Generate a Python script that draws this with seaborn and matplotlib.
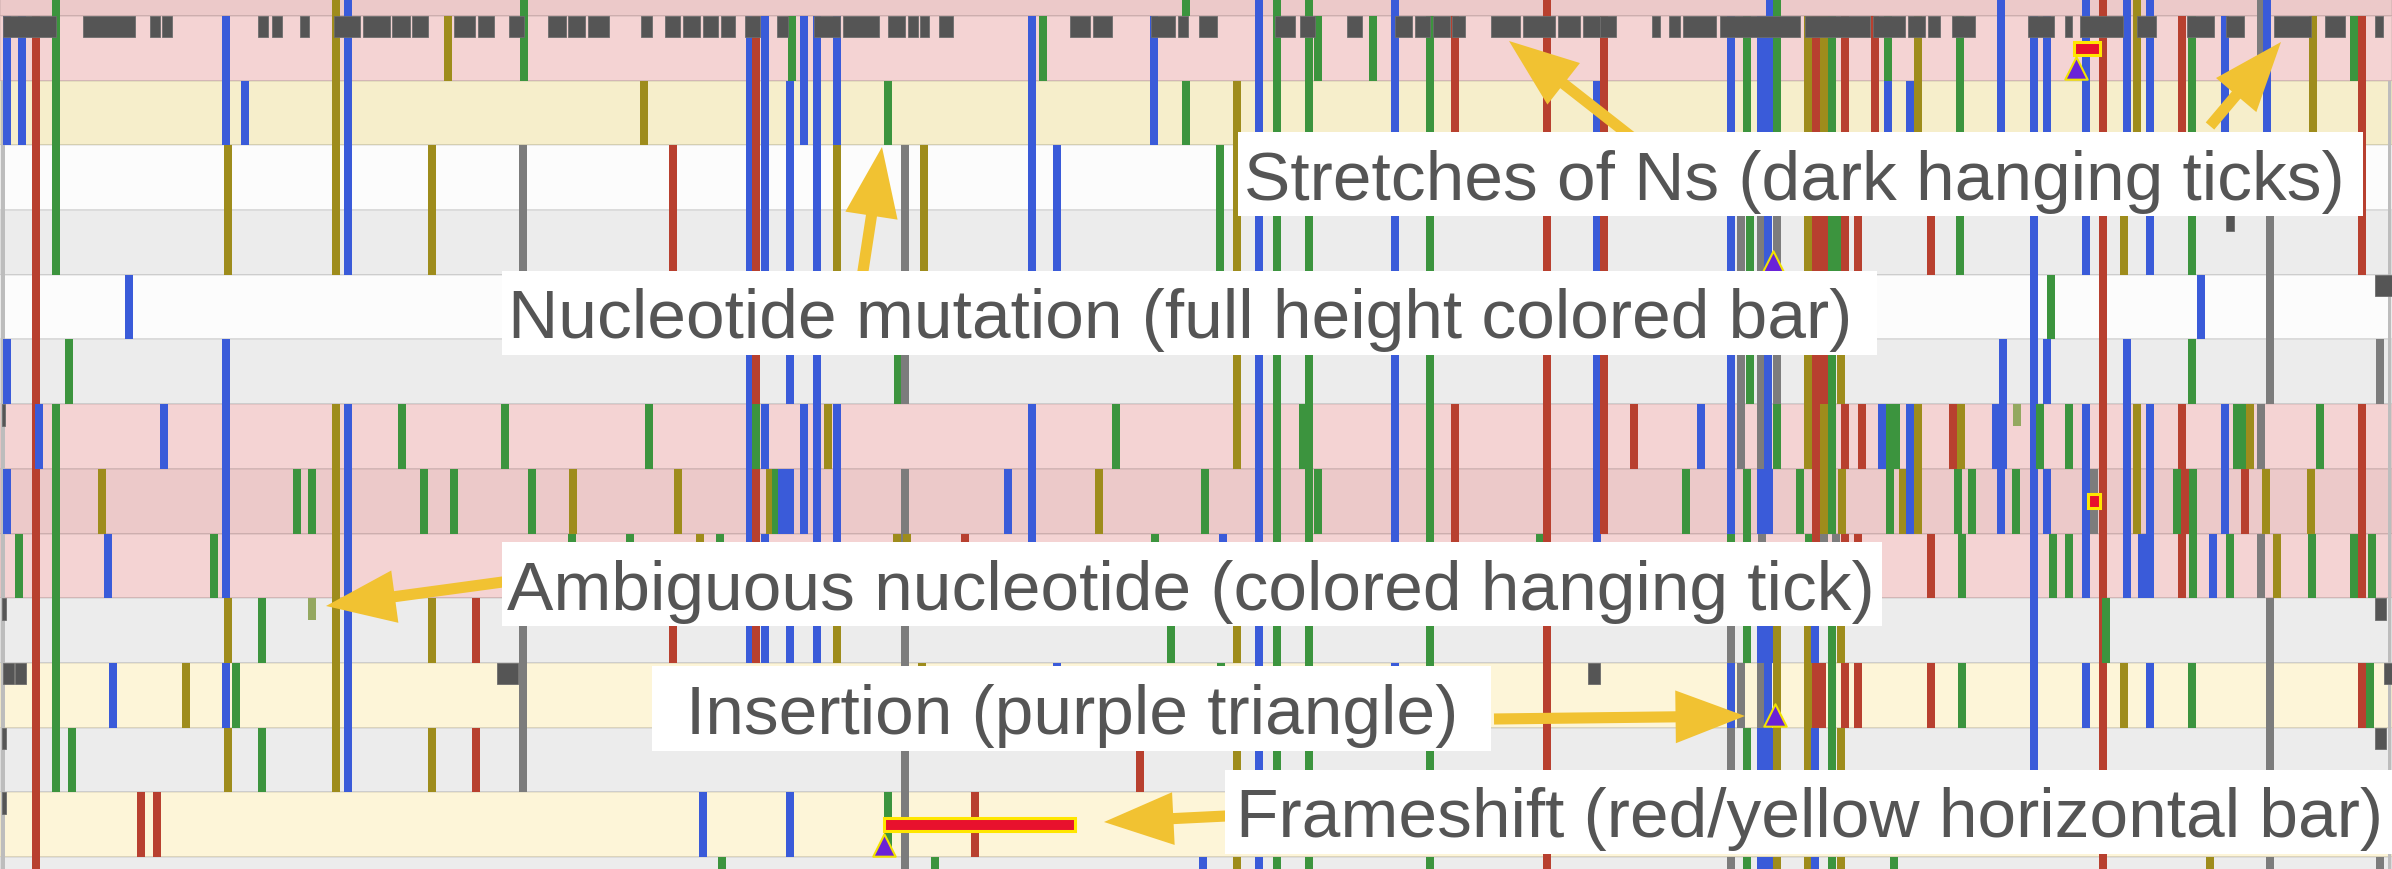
import matplotlib
matplotlib.use("Agg")
import numpy as np
import pandas as pd
import matplotlib.pyplot as plt
from matplotlib.patches import Rectangle
import seaborn as sns

GENOME_LEN = 29900

# row backgrounds, top (partial) row -1 to bottom (partial) row 13
row_ids = list(range(-1, 14))
row_bg = ['#ecc9c9', '#f4d3d3', '#f6eecb', '#fcfcfc', '#ececec', '#fcfcfc', '#ececec',
          '#f4d3d3', '#ecc9c9', '#f4d3d3', '#ececec', '#fdf5d8', '#ececec', '#fdf5d8', '#ececec']

base_colors = {'A': '#b8402f', 'C': '#3a5bd9', 'G': '#9e8c1c', 'T': '#3c943e', '-': '#7c7c7c'}

# mutations: (position, base, first row, last row)
muts_left = [
    (88, 'C', 0, 1), (88, 'C', 5, 5), (88, 'C', 7, 7),
    (275, 'C', 0, 1),
    (450, 'A', 0, 13), (488, 'C', 6, 6),
    (700, 'T', -1, 3), (700, 'T', 6, 11), (863, 'T', 5, 5), (900, 'T', 11, 11),
    (238, 'T', 8, 8), (1350, 'C', 8, 8), (1275, 'G', 7, 7), (1413, 'C', 10, 10), (1613, 'C', 4, 4),
    (1763, 'A', 12, 12), (1963, 'A', 12, 12), (2050, 'C', 6, 6), (2325, 'G', 10, 10), (2675, 'T', 8, 8),
    (2825, 'C', 0, 1), (2850, 'G', 2, 3), (2825, 'C', 5, 8), (2850, 'G', 9, 9), (2825, 'C', 10, 10),
    (2950, 'T', 10, 10), (2850, 'G', 11, 11),
    (3063, 'C', 1, 1), (3275, 'T', 9, 9), (3275, 'T', 11, 11), (3713, 'T', 7, 7), (3900, 'T', 7, 7),
    (4200, 'G', -1, 3), (4200, 'G', 6, 11), (4350, 'C', -1, 3), (4350, 'C', 6, 11),
    (5025, 'T', 6, 6), (5300, 'T', 7, 7), (5400, 'G', 2, 3), (5400, 'G', 9, 9), (5400, 'G', 11, 11),
    (5600, 'G', 0, 0), (5675, 'T', 7, 7), (5950, 'A', 9, 9), (5950, 'A', 11, 11),
    (6313, 'T', 6, 6), (6538, '-', 2, 3), (6538, '-', 9, 11), (6550, 'T', -1, 0), (6650, 'T', 7, 7),
    (7150, 'T', 8, 8), (7163, 'G', 7, 7), (7875, 'T', 8, 8), (8050, 'G', 1, 1), (8113, 'T', 6, 6),
    (8413, 'A', 2, 3), (8413, 'A', 9, 9), (8475, 'G', 7, 7), (8750, 'G', 8, 8), (8788, 'C', 12, 12),
    (9000, 'T', 8, 8), (9025, 'T', 13, 13),
    (9375, 'C', 0, 3), (9375, 'C', 5, 9), (9450, 'A', 0, 5), (9450, 'T', 6, 6), (9450, 'A', 7, 9),
    (9563, 'C', 0, 3), (9563, 'C', 6, 6), (9563, 'C', 8, 9),
    (9625, 'G', 7, 7), (9700, 'T', 7, 7), (9775, 'C', 7, 7),
    (9900, 'T', 0, 0), (9875, 'C', 1, 3), (9875, 'C', 5, 5), (9875, 'C', 7, 7), (9875, 'C', 9, 9),
    (9875, 'C', 12, 12),
]

muts_mid = [
    (10050, 'C', 0, 1), (10050, 'C', 6, 7),
    (10213, 'C', 0, 9),
    (10463, 'C', 0, 1), (10463, 'G', 2, 3), (10463, 'C', 6, 8), (10463, 'G', 9, 9), (10350, 'G', 6, 6),
    (11100, 'T', 1, 1), (11100, 'T', 12, 12),
    (11225, 'T', 5, 5), (11313, '-', 2, 3), (11313, '-', 5, 5), (11313, '-', 7, 13),
    (11213, 'G', 8, 8), (11338, 'G', 8, 8),
    (11550, 'G', 2, 3), (11525, 'G', 10, 10), (11688, 'T', 13, 13),
    (12063, 'A', 8, 8), (12188, 'A', 12, 12), (12600, 'C', 7, 7),
    (12900, 'C', 0, 3), (12900, 'C', 6, 8), (13038, 'T', 0, 0), (13213, 'C', 2, 3), (13213, 'C', 10, 10),
    (13738, 'G', 7, 7), (13950, 'T', 6, 6), (14250, 'A', 11, 11),
    (14425, 'C', 0, 1), (14438, 'T', 8, 8), (14638, 'T', 9, 9),
    (14825, 'T', -1, -1), (14825, 'T', 1, 1), (15038, 'C', 13, 13), (15063, 'T', 7, 7),
    (15250, 'T', 2, 3), (15263, 'T', 10, 10), (15288, 'C', 8, 8),
    (15463, 'G', 1, 3), (15463, 'G', 5, 6), (15463, 'G', 9, 9), (15463, 'G', 11, 11), (15463, 'G', 13, 13),
    (15738, 'C', -1, 11), (15738, 'C', 13, 13),
    (15963, 'T', -1, 11), (15963, 'T', 13, 13),
    (16288, 'T', 6, 6), (16363, 'T', -1, 11), (16363, 'T', 13, 13), (16475, 'T', 0, 0), (16475, 'T', 7, 7),
    (17163, 'T', 0, 0), (17438, 'C', -1, 8), (17438, 'C', 10, 10),
    (17875, 'T', 0, 11), (17875, 'T', 13, 13),
    (18188, 'A', 0, 1), (18188, 'A', 6, 8),
    (19250, 'T', 8, 8), (19338, 'A', -1, 13), (19963, 'C', 1, 3), (19963, 'C', 5, 8),
]

muts_right = [
    (20050, 'A', 0, 7),
    (20425, 'A', 6, 6), (21263, 'C', 6, 6), (21075, 'T', 7, 7),
    (21638, 'C', 0, 1), (21638, 'C', 3, 7), (21638, 'T', 8, 8), (21638, '-', 9, 9), (21638, 'C', 10, 10),
    (21638, '-', 11, 11), (21638, '-', 13, 13),
    (21763, '-', 3, 6), (21763, '-', 10, 10), (21875, 'T', 3, 3), (21875, 'T', 5, 5),
    (21838, 'T', 0, 1), (21838, 'T', 7, 9), (21838, 'T', 11, 11), (21838, 'T', 13, 13),
    (22013, 'C', 0, 1), (22113, 'C', 0, 1), (22013, '-', 3, 6), (22100, 'C', 3, 6), (22013, 'C', 7, 7),
    (22113, 'C', 7, 7), (22025, '-', 8, 8), (22013, 'C', 9, 9), (22113, 'C', 9, 9), (22013, '-', 10, 10),
    (22100, 'C', 10, 10), (22013, 'C', 11, 11), (22113, 'C', 11, 11), (22013, 'C', 13, 13),
    (22113, 'C', 13, 13), (22125, 'C', -1, -1),
    (22213, 'T', -1, 1), (22213, '-', 3, 3), (22213, '-', 5, 5), (22213, 'T', 6, 6), (22213, 'G', 9, 11),
    (22213, 'G', 13, 13),
    (22500, 'T', 7, 7), (22600, 'G', 0, 1), (22600, 'G', 3, 6), (22600, 'G', 9, 11), (22600, 'G', 13, 13),
    (22613, 'T', 8, 8),
    (22700, 'A', 0, 1), (22700, 'A', 3, 8), (22700, 'A', 10, 10), (22688, 'C', 9, 9), (22688, 'C', 11, 11),
    (22688, 'C', 13, 13),
    (22800, 'G', 0, 1), (22800, 'A', 3, 3), (22800, 'A', 5, 5), (22800, 'G', 6, 7), (22800, '-', 8, 8),
    (22775, 'A', 10, 10),
    (22900, 'T', 0, 1), (22900, 'T', 3, 3), (22900, 'T', 5, 7), (22900, 'T', 9, 11), (22900, 'T', 13, 13),
    (22950, '-', 8, 8), (22960, 'T', 3, 3),
    (23013, 'G', 5, 5), (23013, 'G', 9, 9), (23013, 'G', 11, 11), (23013, 'G', 13, 13), (23025, 'G', 7, 7),
    (23063, 'A', 0, 1), (23063, 'A', 3, 3), (23063, 'A', 6, 6), (23063, 'A', 8, 8), (23063, 'A', 10, 10),
    (23225, 'A', 3, 3), (23275, 'A', 6, 6), (23225, 'A', 8, 8), (23225, 'A', 10, 10),
    (23438, 'A', 0, 1),
    (23600, 'T', 0, 0), (23600, 'C', 1, 1), (23625, 'T', 6, 7), (23700, 'T', 6, 6), (23675, 'T', 13, 13),
    (23525, 'C', 6, 6),
    (23788, 'G', 7, 7), (23875, 'C', 1, 1), (23875, 'C', 6, 7), (23975, 'G', 0, 1), (23975, 'G', 6, 7),
    (24138, 'A', 3, 3), (24138, 'A', 8, 8), (24138, 'A', 10, 10),
    (24500, 'T', 0, 1), (24500, 'T', 3, 3), (24475, 'T', 7, 7), (24525, 'T', 8, 8), (24525, 'T', 10, 10),
    (24413, 'A', 6, 6), (24513, 'G', 6, 6), (24650, 'T', 7, 7),
    (25013, 'C', -1, 1), (24950, 'C', 6, 6), (25038, 'C', 6, 6), (25038, 'C', 5, 5), (25013, 'C', 7, 7),
    (25200, 'T', 7, 7),
    (25425, 'C', 0, 11), (25500, 'T', 6, 6),
    (25588, 'C', 0, 1), (25588, 'C', 5, 5), (25588, 'C', 7, 7), (25663, 'T', 8, 8), (25638, 'T', 4, 4),
    (25863, 'T', 6, 6), (25863, 'T', 8, 8),
    (26075, 'C', -1, 1), (26075, 'C', 3, 3), (26075, 'C', 6, 8), (26075, 'C', 10, 10),
    (26175, '-', 7, 7), (26288, 'A', -1, 13), (26325, 'T', 9, 9),
    (26550, 'G', 3, 3), (26550, 'G', 10, 10), (26588, 'C', -1, 1), (26588, 'C', 5, 8),
    (26713, 'G', -1, 1), (26713, 'G', 6, 7),
    (26875, 'C', -1, 1), (26875, 'C', 3, 3), (26875, 'C', 6, 7), (26775, 'C', 8, 8), (26875, 'C', 8, 8),
    (26875, 'C', 10, 10),
    (27213, 'T', 7, 7), (27275, 'A', 0, 1), (27275, 'A', 6, 6), (27313, 'A', 7, 7), (27275, 'A', 8, 8),
    (27400, 'T', 0, 1), (27400, 'T', 3, 3), (27400, 'T', 5, 5), (27413, 'T', 7, 8), (27400, 'T', 10, 10),
    (27513, 'C', 4, 4), (27625, 'G', 13, 13), (27663, 'C', 8, 8),
    (27813, 'C', 0, 1), (27813, 'C', 6, 7), (27875, 'T', 8, 8),
    (27963, 'T', 6, 6), (28038, 'T', 6, 6), (28063, 'A', 7, 7), (28125, 'G', 6, 6),
    (28263, '-', -1, 0), (28263, '-', 6, 6), (28263, '-', 8, 8), (28338, 'C', -1, 1), (28325, 'G', 7, 7),
    (28375, '-', 3, 5), (28375, '-', 9, 11), (28375, '-', 13, 13), (28463, 'G', 8, 8),
    (28913, 'G', 0, 1), (28888, 'G', 7, 7), (29000, 'T', 6, 6), (28900, 'T', 8, 8),
    (29425, 'T', 0, 0), (29425, 'T', 8, 8),
    (29525, 'A', 0, 3), (29525, 'A', 6, 8), (29525, 'A', 10, 10),
    (29650, 'T', 8, 8), (29625, 'T', 10, 10),
    (29750, '-', 5, 5), (29750, '-', 13, 13),
]

# stretches of Ns: (row, start, end)
n_stretches = [
    (0, 38, 700), (0, 1038, 1688), (0, 1875, 2000), (0, 2025, 2150), (0, 3225, 3350), (0, 3400, 3525),
    (0, 3750, 3863), (0, 4175, 4500), (0, 4538, 4875), (0, 4900, 5125), (0, 5150, 5350), (0, 5675, 5938),
    (0, 5975, 6175), (0, 6363, 6550), (0, 6850, 7075), (0, 7100, 7313), (0, 7350, 7613), (0, 8013, 8150),
    (0, 8313, 8500), (0, 8538, 8750), (0, 8788, 8975), (0, 9013, 9188), (0, 9313, 9500), (0, 9713, 9850),
    (0, 10175, 10500), (0, 10538, 10988), (0, 11100, 11313), (0, 11350, 11475), (0, 11500, 11613),
    (0, 11738, 11913), (0, 13375, 13625), (0, 13663, 13900), (0, 14388, 14688), (0, 14725, 14850),
    (0, 14988, 15213), (0, 15938, 16188), (0, 16250, 16438), (0, 16838, 17025), (0, 17438, 17650),
    (0, 17688, 17875), (0, 17913, 18125), (0, 18150, 18313), (0, 18638, 19000), (0, 19038, 19438),
    (0, 19475, 19750), (0, 19788, 20000), (0, 20000, 20200), (0, 20650, 20750), (0, 20863, 21000),
    (0, 21038, 21450), (0, 21500, 22500), (0, 22563, 23375), (0, 23413, 23813), (0, 23850, 24063),
    (0, 24100, 24250), (0, 24400, 24688), (0, 25350, 25675), (0, 25813, 25900), (0, 26000, 26538),
    (0, 26713, 26950), (0, 27338, 27675), (0, 27825, 28050), (0, 28425, 28888), (0, 29063, 29313),
    (0, 29688, 29788),
    (3, 27825, 27925), (4, 29690, 29900), (6, 20, 60), (9, 20, 70), (9, 29690, 29820),
    (10, 38, 175), (10, 190, 325), (10, 6213, 6475), (10, 19850, 20000), (10, 29800, 29900),
    (11, 20, 70), (11, 29690, 29820), (12, 20, 70),
]

# ambiguous nucleotides: (row, position)
ambiguous = [(9, 3900), (6, 25215)]

# frameshifts: (row, start, end)
frameshifts = [(12, 11050, 13440), (0, 25925, 26250), (7, 26100, 26250)]

# insertions
ins_rows = [12, 0, 3, 10]
ins_pos = [11050, 25950, 22165, 22190]

# alignment range edges
edge_pos = [38, 29870]

labels = [
    "Stretches of Ns (dark hanging ticks)",
    "Nucleotide mutation (full height colored bar)",
    "Ambiguous nucleotide (colored hanging tick)",
    "Insertion (purple triangle)",
    "Frameshift (red/yellow horizontal bar)",
]

# ---------------------------------------------------------------
W, H = 2392, 870
sns.set_theme(style="white")
plt.rcParams['font.family'] = ['Liberation Sans', 'DejaVu Sans']

fig = plt.figure(figsize=(W / 100, H / 100), dpi=100)
ax = fig.add_axes([0, 0, 1, 1])

# row backgrounds
ax.barh(np.array(row_ids) + 0.5, GENOME_LEN, height=1, left=0, color=row_bg,
        edgecolor='#00000014', linewidth=1.2, zorder=0)

# alignment edges
ax.bar(edge_pos, 13, bottom=1, width=45, color='#bdbdbd', linewidth=0, zorder=0.5)

muts = pd.DataFrame(muts_left + muts_mid + muts_right, columns=['pos', 'base', 'first', 'last'])
ax.bar(muts['pos'], muts['last'] - muts['first'] + 1, bottom=muts['first'], width=95,
       color=muts['base'].map(base_colors), linewidth=0, zorder=1)

ns = pd.DataFrame(n_stretches, columns=['row', 'start', 'end'])
ax.bar((ns['start'] + ns['end']) / 2, 0.33, bottom=ns['row'], width=ns['end'] - ns['start'],
       color='#555555', edgecolor='#6d6d6d', linewidth=0.6, zorder=2)

amb = pd.DataFrame(ambiguous, columns=['row', 'pos'])
ax.bar(amb['pos'], 0.33, bottom=amb['row'], width=95, color='#94a860', linewidth=0, zorder=2)

fs = pd.DataFrame(frameshifts, columns=['row', 'start', 'end'])
ax.barh(fs['row'] + 0.5, fs['end'] - fs['start'], left=fs['start'], height=0.21,
        color='#e8112d', edgecolor='#ffe600', linewidth=2.2, zorder=3)

ins = pd.DataFrame({'pos': ins_pos, 'y': np.array(ins_rows) + 0.81})
sns.scatterplot(data=ins, x='pos', y='y', marker='^', s=260, color='#6a22d8',
                edgecolor='#f2e200', linewidth=1.5, ax=ax, zorder=4, legend=False)
ax.set_xlim(0, GENOME_LEN)
ax.set_ylim(13 + 12 / 64.7, -17 / 64.7)
ax.axis('off')


# annotations (positions in image pixels, from top-left)
def fp(x, y):
    return (x, H - y)


arrow_kw = dict(facecolor='#f1c232', edgecolor='none', width=8, headwidth=38, headlength=50, shrink=0)
arrows = [((1638, 143), (1509, 42)), ((2210, 127), (2281, 43)), ((861, 285), (882, 148)),
          ((510, 582), (326, 607)), ((1494, 720), (1745, 717)), ((1226, 817), (1104, 823))]
for tail, tip in arrows:
    ax.annotate('', xy=fp(*tip), xytext=fp(*tail), xycoords='figure pixels',
                textcoords='figure pixels', arrowprops=arrow_kw, zorder=5)

boxes = [(1238, 133, 2363, 217), (502, 272, 1877, 356), (502, 543, 1882, 627),
         (652, 667, 1491, 752), (1225, 771, 2400, 855)]
text_at = [(1244, 200), (508, 338), (507, 610), (686, 734), (1236, 837)]
for (x0, y0, x1, y1), (tx, ty), lab in zip(boxes, text_at, labels):
    ax.add_patch(Rectangle((x0 / W, 1 - y1 / H), (x1 - x0) / W, (y1 - y0) / H,
                           transform=fig.transFigure, facecolor='white', edgecolor='none',
                           zorder=6, clip_on=False))
    ax.text(tx / W, 1 - ty / H, lab, transform=fig.transFigure, ha='left', va='baseline',
            fontsize=50, color='#555555', zorder=7)

fig.savefig('out.png', dpi=100)
